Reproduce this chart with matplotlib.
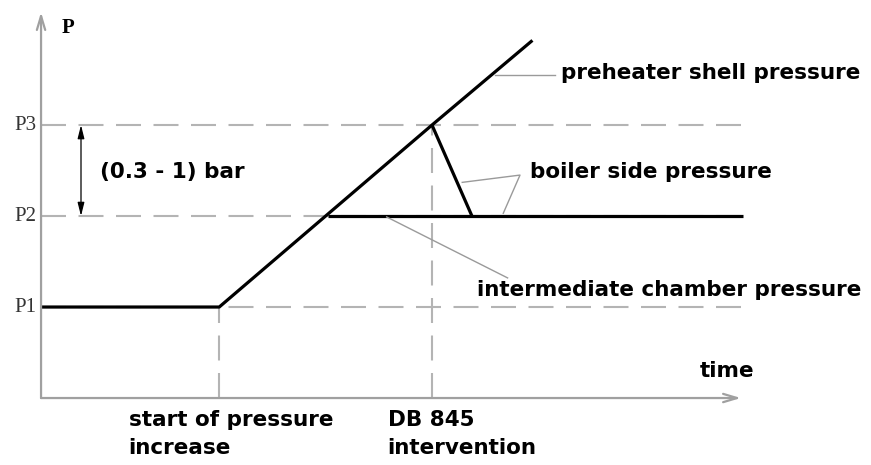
import matplotlib
matplotlib.use("Agg")
import matplotlib.pyplot as plt

# ---------------------------------------------------------------------
# Schematic data (time in arbitrary units, pressure levels P1..P3)
# ---------------------------------------------------------------------
level_names = ["P1", "P2", "P3"]
level_values = [1.0, 2.0, 3.0]

t_start = 1.65          # start of pressure increase
t_intervention = 3.62   # DB 845 intervention
t_end = 6.5

# preheater shell pressure (flat, then rising)
shell_t = [0.0, 1.65, 3.62, 4.55]
shell_p = [1.0, 1.0, 3.0, 3.93]

# intermediate chamber pressure (held at P2)
chamber_t = [2.66, 6.5]
chamber_p = [2.0, 2.0]

# boiler side pressure (drops from P3 to P2 after intervention)
boiler_t = [3.62, 3.99]
boiler_p = [3.0, 2.0]

axis_x_max = 6.48
axis_y_max = 4.24

# colours
col_line = "black"
col_dash = "#b4b4b4"
col_axis = "#a0a0a0"
col_lead = "#9a9a9a"

label_font = "DejaVu Sans"
serif_font = "Liberation Serif"
label_size = 15.5

fig = plt.figure(figsize=(8.71, 4.65), dpi=100)
ax = fig.add_axes([0, 0, 1, 1])
ax.set_xlim(-0.380, 7.685)
ax.set_ylim(-0.736, 4.374)
ax.axis("off")

# axes with open arrow heads
ax.annotate("", xy=(0, axis_y_max), xytext=(0, 0),
            arrowprops=dict(arrowstyle="->,head_length=1.0,head_width=0.3",
                            color=col_axis, lw=1.6, shrinkA=0, shrinkB=0))
ax.annotate("", xy=(axis_x_max, 0), xytext=(0, 0),
            arrowprops=dict(arrowstyle="->,head_length=1.0,head_width=0.3",
                            color=col_axis, lw=1.6, shrinkA=0, shrinkB=0))

# dashed reference levels
for name, val in zip(level_names, level_values):
    ax.plot([0, t_end], [val, val], color=col_dash, lw=1.5, dashes=(12, 6))
    ax.text(-0.04, val, name, ha="right", va="center", fontsize=15,
            family=serif_font, color="#333333")

# dashed verticals
ax.plot([t_start, t_start], [0, level_values[0]], color=col_dash, lw=1.5, dashes=(12, 6))
ax.plot([t_intervention, t_intervention], [0, level_values[2]], color=col_dash, lw=1.5, dashes=(12, 6))

# pressure curves
ax.plot(shell_t, shell_p, color=col_line, lw=2.3, solid_capstyle="butt")
ax.plot(chamber_t, chamber_p, color=col_line, lw=2.3, solid_capstyle="butt")
ax.plot(boiler_t, boiler_p, color=col_line, lw=2.3, solid_capstyle="butt")

# double arrow between P2 and P3
ax.annotate("", xy=(0.37, level_values[2]), xytext=(0.37, level_values[1]),
            arrowprops=dict(arrowstyle="<|-|>,head_length=0.8,head_width=0.2",
                            color="black", lw=0.9, shrinkA=0, shrinkB=0))
ax.text(0.55, 2.48, "(0.3 - 1) bar", ha="left", va="center", fontsize=label_size,
        family=label_font, fontweight="bold")

# leader lines
ax.plot([4.20, 4.76], [3.55, 3.55], color=col_lead, lw=1)
ax.plot([3.90, 4.435, 4.28], [2.37, 2.45, 2.03], color=col_lead, lw=1)
ax.plot([3.20, 4.32], [1.99, 1.32], color=col_lead, lw=1)

ax.text(4.81, 3.57, "preheater shell pressure", ha="left", va="center",
        fontsize=label_size, family=label_font, fontweight="bold")
ax.text(4.53, 2.48, "boiler side pressure", ha="left", va="center",
        fontsize=label_size, family=label_font, fontweight="bold")
ax.text(4.04, 1.19, "intermediate chamber pressure", ha="left", va="center",
        fontsize=label_size, family=label_font, fontweight="bold")

# axis labels
ax.text(0.19, 4.07, "P", ha="left", va="center", fontsize=15,
        family=serif_font, fontweight="bold")
ax.text(6.10, 0.30, "time", ha="left", va="center", fontsize=label_size,
        family=label_font, fontweight="bold")

ax.text(0.81, -0.13, "start of pressure\nincrease", ha="left", va="top",
        fontsize=label_size, family=label_font, fontweight="bold", linespacing=1.5)
ax.text(3.21, -0.13, "DB 845\nintervention", ha="left", va="top",
        fontsize=label_size, family=label_font, fontweight="bold", linespacing=1.5)

fig.savefig("out.png", dpi=100)
